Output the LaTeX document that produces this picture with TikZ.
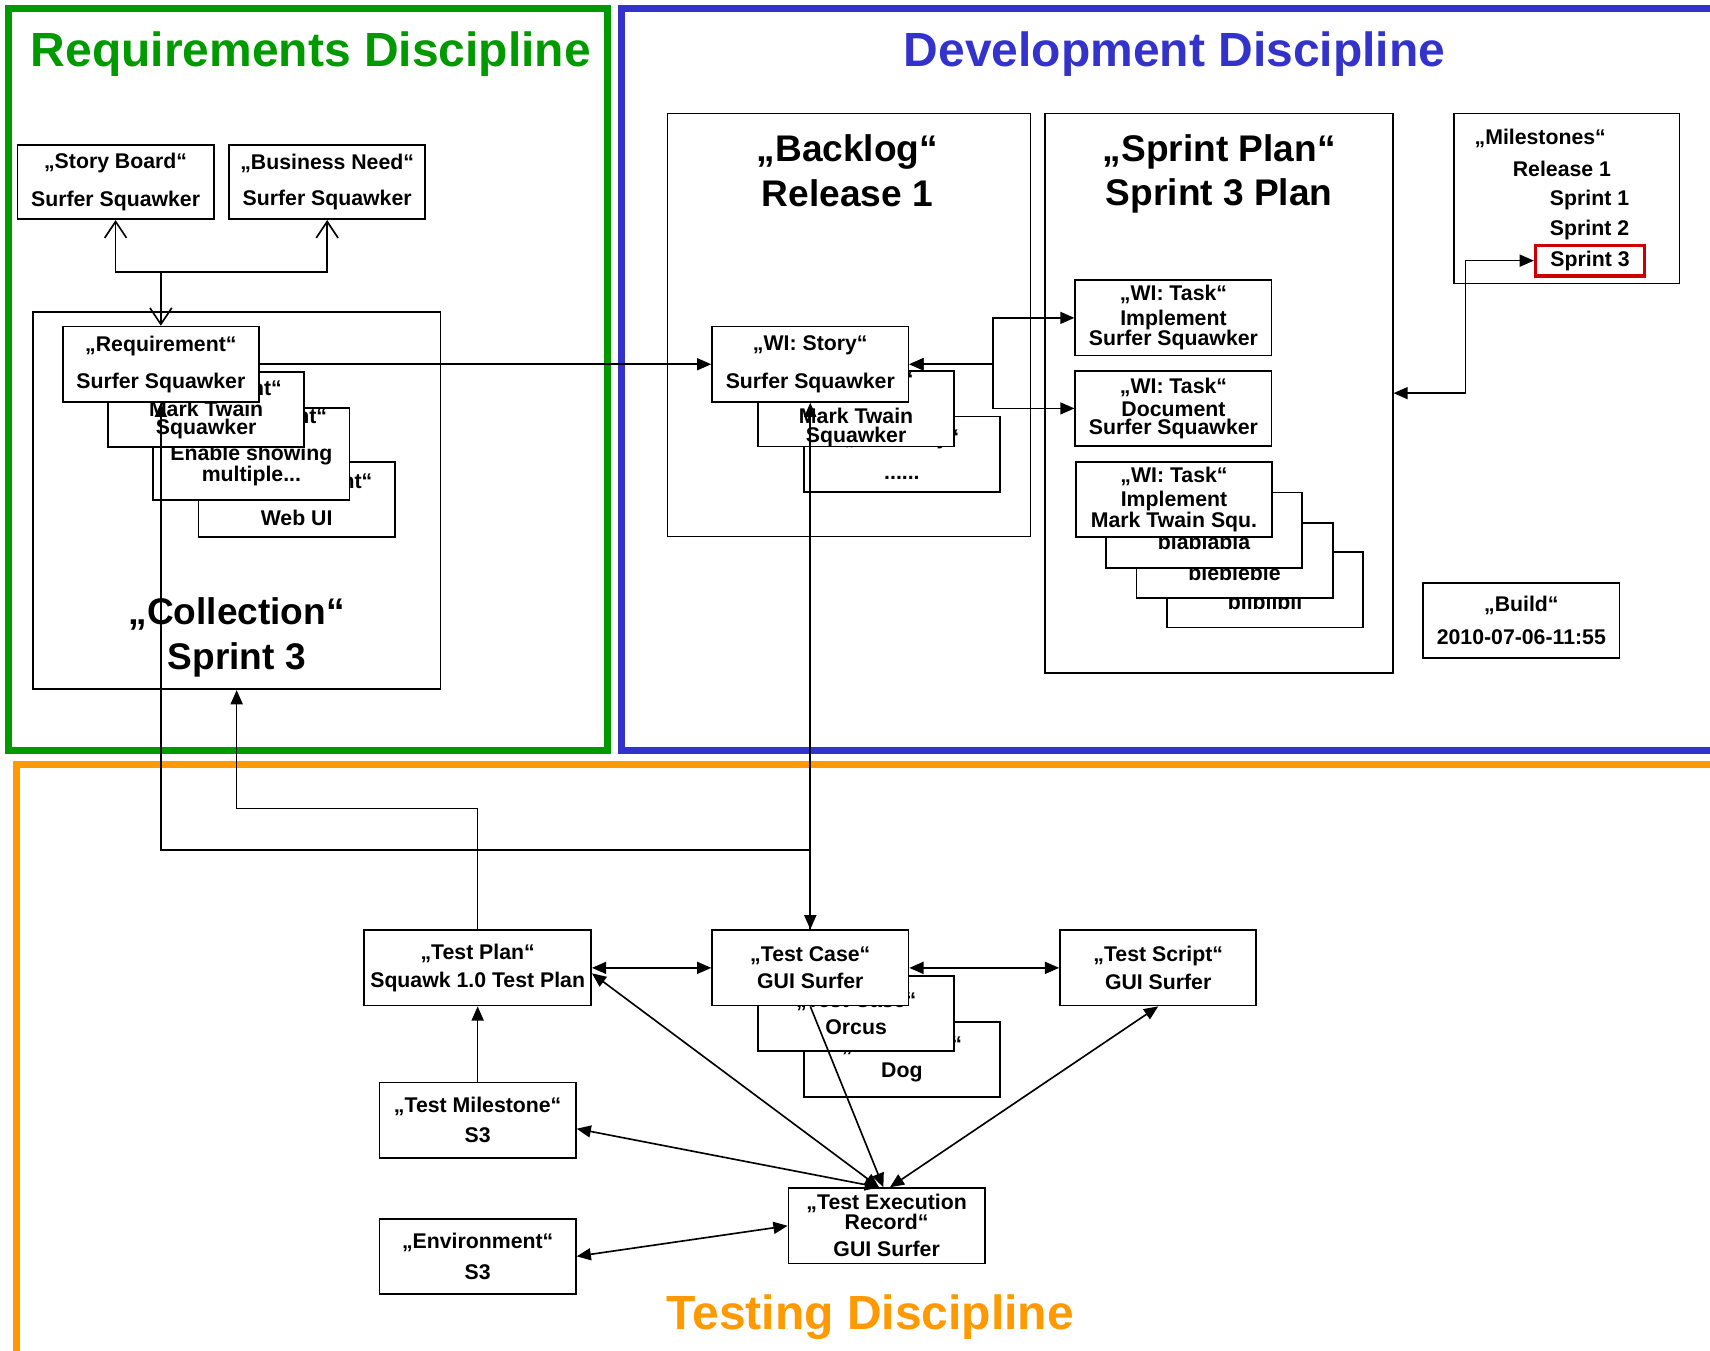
\documentclass[tikz,border=0pt]{standalone}
\usepackage{fontspec}
\setmainfont{Liberation Sans}
\usepackage{tikz}
\usetikzlibrary{arrows.meta,positioning}
\definecolor{reqgreen}{RGB}{0,153,0}
\definecolor{devblue}{RGB}{51,51,204}
\definecolor{testorange}{RGB}{255,153,0}
\definecolor{msred}{RGB}{204,0,0}

\begin{document}
\begin{tikzpicture}[
  x=1pt, y=-1pt,
  font=\bfseries\fontsize{19.5}{17}\selectfont,
  n/.style={draw, fill=white, line width=1.6pt, align=center, inner sep=0pt,
    minimum width=180pt, minimum height=69pt},
  cont/.style={draw, line width=1.6pt, inner sep=0pt},
  big/.style={align=center, font=\bfseries\fontsize{34}{41}\selectfont},
  ttl/.style={font=\bfseries\fontsize{44}{50}\selectfont},
  frm/.style={line width=6pt},
  lbl/.style={anchor=west, inner sep=0pt},
  arr/.style={-{Triangle[length=13pt,width=11pt]}, line width=1.5pt},
  biarr/.style={{Triangle[length=13pt,width=11pt]}-{Triangle[length=13pt,width=11pt]}, line width=1.5pt},
  opn/.style={-{Straight Barb[length=15pt,width=20pt]}, line width=1.5pt}
]
\useasboundingbox (0,0) rectangle (1568,1238);

% discipline frames
\draw[frm, reqgreen] (8,8) rectangle (557,688);
\draw[frm, devblue] (570,8) rectangle (1600,688);
\draw[frm, testorange] (15,701) rectangle (1600,1270);
\node[ttl, text=reqgreen] (reqttl) at (285,50) {Requirements Discipline};
\node[ttl, text=devblue] (devttl) at (1077,50) {Development Discipline};
\node[ttl, text=testorange] (testttl) at (798,1208) {Testing Discipline};

% requirements
\node[n, minimum height=68pt] (sb) at (106,167) {„Story Board“\\[15pt]Surfer Squawker};
\node[n, minimum height=68pt] (bn) at (300,167) {„Business Need“\\[15pt]Surfer Squawker};
\node[cont, minimum width=374pt, minimum height=346pt] (coll) at (217,459) {};
\node[big] (colltxt) at (217,584.5) {„Collection“\\Sprint 3};
\node[n] (req4) at (272,458) {„Requirement“\\[15pt]Web UI};
\node[n] (req3) at (230.5,416.5) {„Requirement“\\[15pt]Enable showing\\multiple...\\\mbox{}};
\node[n] (req2) at (189,375.5) {„Requirement“\\Mark Twain\\Squawker};
\node[n] (req1) at (147.5,334) {„Requirement“\\[15pt]Surfer Squawker};

% development
\node[cont, minimum width=333pt, minimum height=388pt] (backlog) at (778.5,298) {};
\node[big] (backlogtxt) at (777,156.3) {„Backlog“\\Release 1};
\node[n] (story3) at (827,416.5) {„WI: Story“\\[15pt]......};
\node[n] (story2) at (785,375) {„WI: Story“\\[15pt]Mark Twain\\Squawker};
\node[n] (story1) at (743,334) {„WI: Story“\\[15pt]Surfer Squawker};

\node[cont, minimum width=319pt, minimum height=513pt] (splan) at (1117.5,360.5) {};
\node[big] (splantxt) at (1118,159.6) {„Sprint Plan“\\Sprint 3 Plan};
\node[n] (task1) at (1076,291.5) {„WI: Task“\\[4pt]Implement\\Surfer Squawker};
\node[n] (task2) at (1076,374.5) {„WI: Task“\\[4pt]Document\\Surfer Squawker};
\node[n] (taskd) at (1160,541) {„WI: Task“\\[4pt]bliblibli};
\node[n] (taskc) at (1132,514) {„WI: Task“\\[4pt]blebleble};
\node[n] (taskb) at (1104,486) {„WI: Task“\\[4pt]blablabla};
\node[n] (task3) at (1076.5,458) {„WI: Task“\\[4pt]Implement\\Mark Twain Squ.};

\node[cont, minimum width=207pt, minimum height=156pt] (ms) at (1436.5,182) {};
\node[lbl] (ms0) at (1352,127) {„Milestones“};
\node[lbl] (ms1) at (1387,155) {Release 1};
\node[lbl] (ms2) at (1421,183) {Sprint 1};
\node[lbl] (ms3) at (1421,211) {Sprint 2};
\node[draw=msred, line width=3pt, inner sep=0pt, minimum width=100pt, minimum height=28pt] (s3) at (1458,239) {Sprint 3};
\node[n] (build) at (1395,569) {„Build“\\[13pt]2010-07-06-11:55};

% testing
\node[n, minimum width=208pt] (tp) at (438,887.5) {„Test Plan“\\[7pt]Squawk 1.0 Test Plan};
\node[n] (tc3) at (827,971.5) {„Test Case“\\[7pt]Dog};
\node[n] (tc2) at (785,929.5) {„Test Case“\\[7pt]Orcus};
\node[n] (tc1) at (743,887.5) {„Test Case“\\[7pt]GUI Surfer};
\node[n] (ts) at (1062,887.5) {„Test Script“\\[7pt]GUI Surfer};
\node[n] (tm) at (438,1027) {„Test Milestone“\\[11pt]S3};
\node[n] (env) at (438,1152) {„Environment“\\[11pt]S3};
\node[n] (ter) at (813,1124) {„Test Execution\\Record“\\[8pt]GUI Surfer};

% connectors
\coordinate[above=49pt of req1.north] (jreq);
\draw[opn] (jreq) -| (sb.south);
\draw[opn] (jreq) -| (bn.south);
\draw[opn] (jreq) -- (req1.north);
\draw[arr] (req1.east) -- (story1.west);
\coordinate[right=77pt of story1.east] (jtask);
\draw[biarr] (story1.east) -- (jtask) |- (task1.west);
\draw[biarr] (story1.east) -- (jtask) |- (task2.west);
\coordinate[right=66pt of splan.east] (jms);
\draw[biarr] (splan.east) -- (jms) |- (s3.west);
\draw[biarr] (story1.south) -- (tc1.north);
\coordinate[above=73pt of tc1.north] (jtc);
\draw[arr] (tc1.north) -- (jtc) -| (req1.south);
\coordinate[above=111pt of tp.north] (jtp);
\draw[arr] (tp.north) -- (jtp) -| (coll.south);
\draw[biarr] (tp.east) -- (tc1.west);
\draw[biarr] (tc1.east) -- (ts.west);
\draw[arr] (tm.north) -- (tp.south);
\draw[biarr] ([yshift=-5pt]tp.east) -- ([xshift=-7pt]ter.north);
\draw[arr] (tc1.south) -- ([xshift=-3pt]ter.north);
\draw[biarr] ([yshift=-8pt]tm.east) -- ([xshift=-7pt]ter.north);
\draw[biarr] (ts.south) -- ([xshift=3pt]ter.north);
\draw[biarr] (env.east) -- (ter.west);
\end{tikzpicture}
\end{document}
